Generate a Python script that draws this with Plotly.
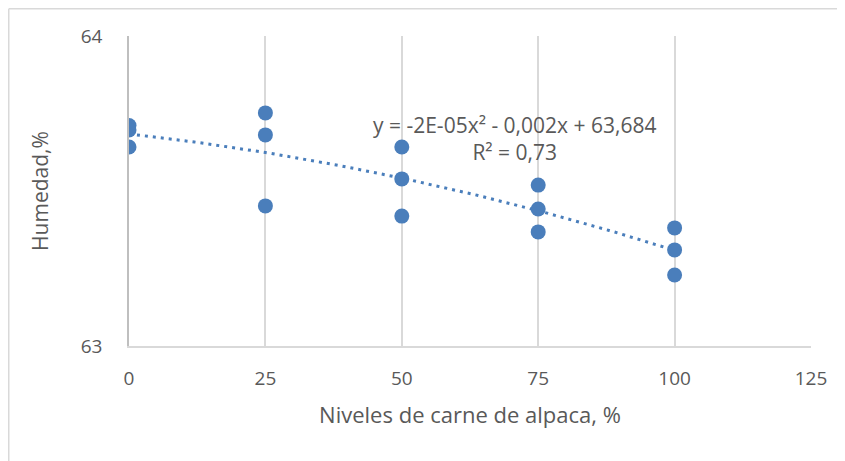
import numpy as np
import plotly.graph_objects as go

# Data
niveles = [0, 0, 0, 25, 25, 25, 50, 50, 50, 75, 75, 75, 100, 100, 100]
humedad = [63.711, 63.697, 63.642,
           63.752, 63.681, 63.452,
           63.642, 63.539, 63.419,
           63.519, 63.442, 63.368,
           63.381, 63.310, 63.229]
x_ticks = [0, 25, 50, 75, 100, 125]
y_ticks = [63, 64]
equation_text = "y = -2E-05x² - 0,002x + 63,684<br>R² = 0,73"

# quadratic trendline fitted by numpy (as in Excel)
coef = np.polyfit(niveles, humedad, 2)
xt = np.linspace(min(niveles), max(niveles), 101)
yt = np.polyval(coef, xt)

blue = "#4a7ebb"
txt = "#595959"
font_family = "Open Sans, Liberation Sans, sans-serif"

fig = go.Figure()
fig.add_trace(go.Scatter(x=xt, y=yt, mode="lines",
                         line=dict(color=blue, width=3, dash="3px,5px"),
                         hoverinfo="skip", showlegend=False))
fig.add_trace(go.Scatter(x=niveles, y=humedad, mode="markers",
                         marker=dict(color=blue, size=15),
                         showlegend=False))

# page has an 8px body margin, so figure is 8px smaller
W, H = 837, 453
L, R, T, B = 121, 34, 28, 115
pw, ph = W - L - R, H - T - B

fig.add_annotation(x=(506 - L) / pw, y=1 - (130.5 - T) / ph, xref="paper", yref="paper",
                   text=equation_text, showarrow=False,
                   font=dict(size=21, color=txt, family=font_family),
                   align="center", xanchor="center", yanchor="middle")

# outer chart border (light gray), top and left edges
x0p = (0.75 - L) / pw
y1p = 1 + (T - 0.75) / ph
fig.add_shape(type="line", xref="paper", yref="paper", x0=x0p, x1=(W - L) / pw,
              y0=y1p, y1=y1p, line=dict(color="#d9d9d9", width=1.5))
fig.add_shape(type="line", xref="paper", yref="paper", x0=x0p, x1=x0p,
              y0=y1p, y1=-(H - T - ph) / ph, line=dict(color="#d9d9d9", width=1.5))

fig.update_layout(
    width=W, height=H,
    margin=dict(l=L, r=R, t=T, b=B),
    paper_bgcolor="white", plot_bgcolor="white",
    font=dict(family=font_family, color=txt, size=19),
    xaxis=dict(range=[0, 125], tickvals=x_ticks, ticktext=[str(v) for v in x_ticks],
               showgrid=True, gridcolor="#d9d9d9", gridwidth=1.5,
               showline=True, linecolor="#d9d9d9", linewidth=1.5,
               zeroline=False, ticks="", ticklabelstandoff=14,
               tickfont=dict(size=19, color=txt),
               title=dict(text="Niveles de carne de alpaca, %", standoff=18,
                          font=dict(size=22, color=txt))),
    yaxis=dict(range=[63, 64], tickvals=y_ticks, ticktext=[str(v) for v in y_ticks],
               showgrid=False, showline=True, linecolor="#bfbfbf", linewidth=1.5,
               zeroline=False, ticks="", ticklabelstandoff=21,
               tickfont=dict(size=19, color=txt),
               title=dict(text="Humedad,%", standoff=26,
                          font=dict(size=21, color=txt))),
)

fig.write_html("out.html")
